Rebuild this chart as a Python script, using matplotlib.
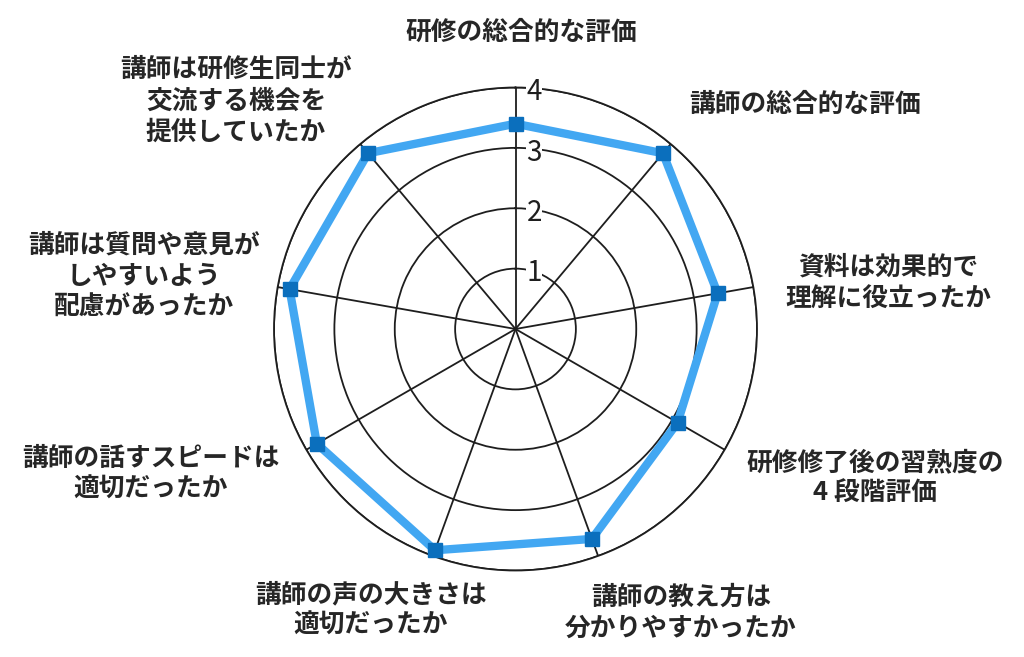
import numpy as np
import matplotlib
matplotlib.use('Agg')
import matplotlib.pyplot as plt

plt.rcParams['font.family'] = ['Noto Sans CJK JP', 'DejaVu Sans']

# survey items, clockwise from the top
items = [
    '研修の総合的な評価',
    '講師の総合的な評価',
    '資料は効果的で\n理解に役立ったか',
    '研修修了後の習熟度の\n4 段階評価',
    '講師の教え方は\n分かりやすかったか',
    '講師の声の大きさは\n適切だったか',
    '講師の話すスピードは\n適切だったか',
    '講師は質問や意見が\nしやすいよう\n配慮があったか',
    '講師は研修生同士が\n交流する機会を\n提供していたか',
]
scores = [3.4, 3.8, 3.4, 3.1, 3.7, 3.9, 3.8, 3.8, 3.8]
levels = [1, 2, 3, 4]

# label block centres in pixels (x, y from top)
label_pos = [(521, 32), (805, 104), (888, 283), (875, 478), (681, 613),
             (371, 610), (151, 474), (144, 276), (236, 101)]

W, H = 1024, 657
fig = plt.figure(figsize=(W / 100, H / 100), dpi=100)
cx, cy, rad = 515.5, 329, 241.5
ax = fig.add_axes([(cx - rad) / W, (H - cy - rad) / H, 2 * rad / W, 2 * rad / H],
                  projection='polar')
ax.set_theta_offset(np.pi / 2)
ax.set_theta_direction(-1)

n = len(items)
theta = np.arange(n) * 2 * np.pi / n
ax.set_thetagrids(np.degrees(theta), [''] * n)
ax.set_rlim(0, levels[-1])
ax.set_rticks(levels)
ax.set_yticklabels([])
ax.grid(True, color='#1e1e1e', linewidth=1.3)
ax.spines['polar'].set_color('#1e1e1e')
ax.spines['polar'].set_linewidth(1.3)

# tick values along the top axis
for lv in levels:
    ax.annotate(str(lv), xy=(0, lv), xytext=(13.5, -3.5), textcoords='offset points',
                ha='center', va='center', fontsize=20, color='#1e1e1e',
                bbox=dict(facecolor='white', edgecolor='none', pad=0.3),
                annotation_clip=False, zorder=3)

t_closed = np.append(theta, theta[0])
s_closed = np.append(scores, scores[0])
ax.plot(t_closed, s_closed, color='#42a7f2', linewidth=6, solid_joinstyle='miter',
        zorder=4, clip_on=False)
ax.plot(theta, scores, linestyle='none', marker='s', markersize=9.5,
        color='#0b6fbd', zorder=5, clip_on=False)

for text, (x, y) in zip(items, label_pos):
    fig.text(x / W, 1 - y / H, text, ha='center', va='center', multialignment='center',
             fontsize=18.5, fontweight='bold', color='#262626', linespacing=1.2)

fig.savefig('out.png', dpi=100, facecolor='white')
